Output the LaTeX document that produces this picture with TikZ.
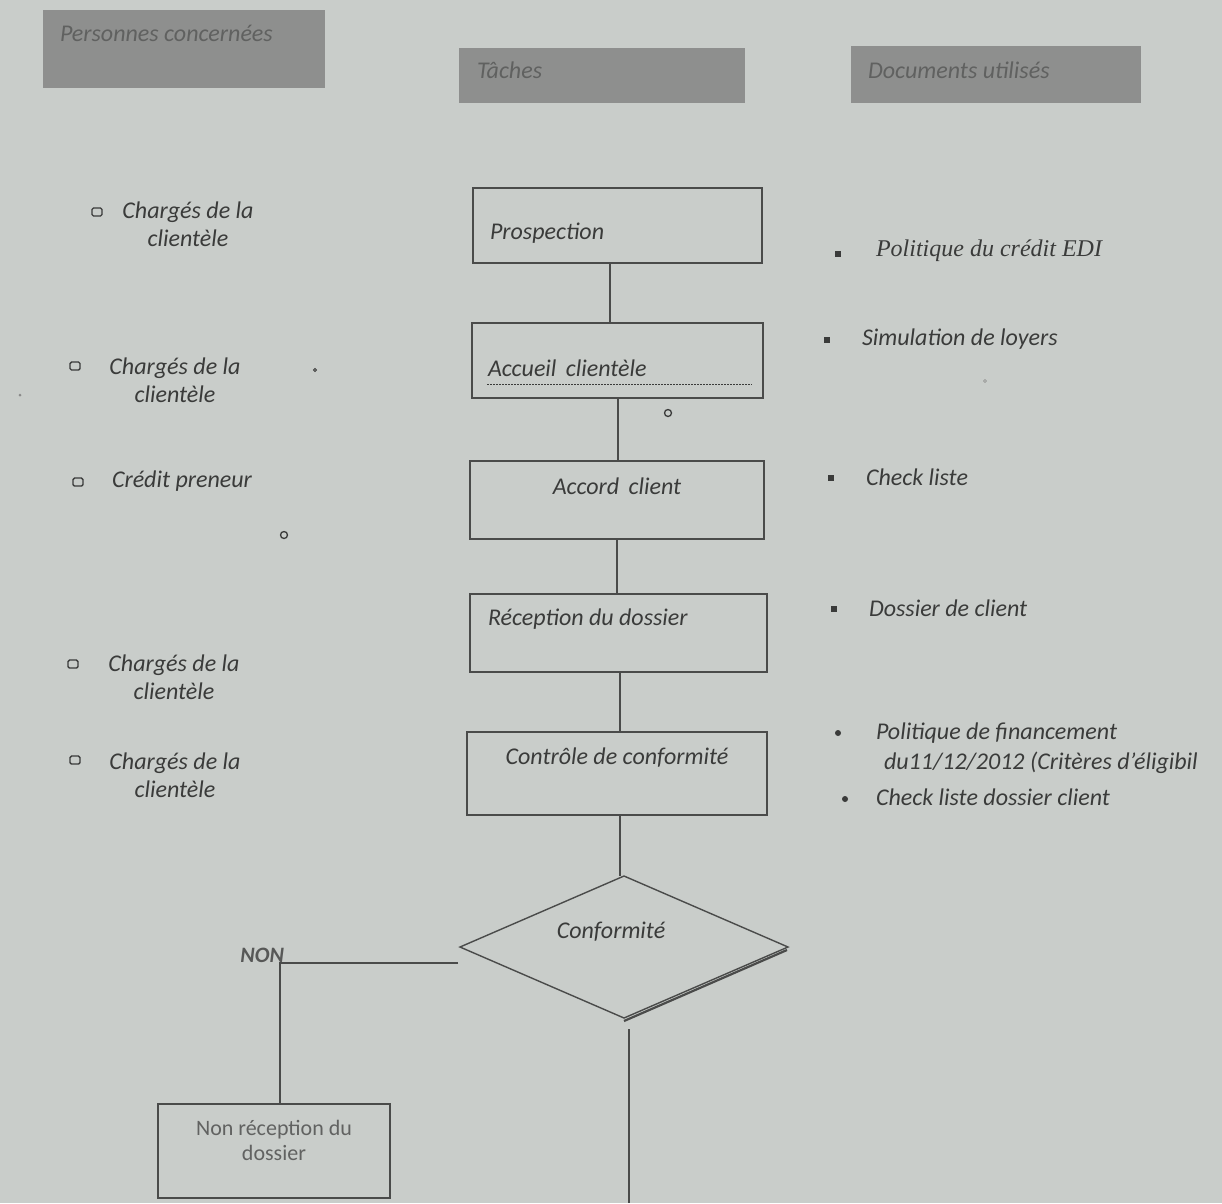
\documentclass[tikz,border=0pt]{standalone}
\usepackage{fontspec}
\setmainfont{Carlito}
\newfontfamily\serifit{Liberation Serif}
\usetikzlibrary{shapes.geometric,calc}
\definecolor{paper}{HTML}{C9CDCA}
\definecolor{band}{HTML}{8E8F8E}
\definecolor{bandtxt}{HTML}{606160}
\definecolor{ink}{HTML}{3A3B3A}
\definecolor{edge}{HTML}{4A4B4A}
\begin{document}
\begin{tikzpicture}[x=1pt,y=-1pt,
  every node/.style={inner sep=0pt,outer sep=0pt},
  txt/.style={font=\fontsize{24}{28}\selectfont\itshape,text=ink},
  hdtxt/.style={font=\fontsize{24}{28}\selectfont\itshape,text=bandtxt,anchor=west},
  band/.style={fill=band,draw=none},
  taskbox/.style={draw=edge,line width=1.4pt},
  link/.style={draw=edge,line width=1.4pt},
  sqbullet/.style={draw=ink,line width=1.4pt,rounded corners=1.5pt,minimum width=10pt,minimum height=8pt},
  fbullet/.style={fill=ink,minimum width=6pt,minimum height=6pt},
  dbullet/.style={fill=ink,circle,minimum size=6pt},
  speck/.style={draw=ink,line width=1.3pt,circle,minimum size=#1},
]
% paper
\fill[paper] (0,0) rectangle (1222,1203);
\useasboundingbox (0,0) rectangle (1222,1203);

% column headings
\node[band,minimum width=282pt,minimum height=78pt] (hpers) at (184,49) {};
\node[hdtxt] (hpersT) at (60,33) {Personnes concernées};
\node[band,minimum width=286pt,minimum height=55pt] (htask) at (602,75.5) {};
\node[hdtxt] (htaskT) at (477,70) {Tâches};
\node[band,minimum width=290pt,minimum height=57pt] (hdoc) at (996,74.5) {};
\node[hdtxt] (hdocT) at (868,70) {Documents utilisés};

% task boxes
\node[taskbox,minimum width=289pt,minimum height=75pt] (prosp) at (617.5,225.5) {};
\node[txt,anchor=west] (prospT) at (490,233) {Prospection};
\node[taskbox,minimum width=291pt,minimum height=75pt] (accueil) at (617.5,360.5) {};
\node[txt,anchor=west] (accueilT) at (488,368) {Accueil\, clientèle};
\draw[ink,line width=0.8pt,dash pattern=on 2pt off 1pt] (487,384) -- (752,384);
\node[taskbox,minimum width=294pt,minimum height=78pt] (accord) at (617,500) {};
\node[txt] (accordT) at (617,486) {Accord\, client};
\node[taskbox,minimum width=297pt,minimum height=78pt] (recep) at (618.5,633) {};
\node[txt,anchor=west] (recepT) at (488,619) {Réception du dossier};
\node[taskbox,minimum width=300pt,minimum height=83pt] (ctrl) at (617,773.5) {};
\node[txt] (ctrlT) at (617,758) {Contrôle de conformité};

% decision
\node[draw=edge,line width=1.4pt,diamond,minimum width=328pt,minimum height=142pt] (dia) at (624,947) {};
\node[txt] (diaT) at (611,932) {Conformité};
\draw[edge,line width=2.2pt] ([shift={(-1,3)}]dia.east) -- ([shift={(0,3)}]dia.south);

\node[taskbox,minimum width=232pt,minimum height=94pt] (nonrec) at (274,1151) {};
\node[font=\fontsize{22}{25}\selectfont,text=ink!80,align=center] (nonrecT) at (274,1140) {Non réception du\\dossier};

% connectors
\draw[link] ($(prosp.south)+(-7.5,0)$) -- ($(accueil.north)+(-7.5,0)$);
\draw[link] ($(accueil.south)+(0.5,0)$) -- ($(accord.north)+(1,0)$);
\draw[link] (accord.south) -- ($(recep.north)+(-1.5,0)$);
\draw[link] ($(recep.south)+(1.5,0)$) -- ($(ctrl.north)+(3,0)$);
\draw[link] ($(ctrl.south)+(3,0)$) -- ($(dia.north)+(-4,0)$);
\coordinate (down) at (629,1203);
\draw[link] ([shift={(5,11)}]dia.south) -- (down);
\coordinate (nonbend) at (280,963);
\draw[link] ([shift={(-2,16)}]dia.west) -- (nonbend) -- (nonbend |- nonrec.north);
\node[font=\fontsize{22}{26}\selectfont\bfseries\itshape,text=ink!85,anchor=base east] (nonT) at (284,962) {NON};

% people column
\node[sqbullet] (b1) at (97,212) {};
\node[txt,align=center] (p1) at (188,224) {Chargés de la\\clientèle};
\node[sqbullet] (b2) at (75,366) {};
\node[txt,align=center] (p2) at (175,380) {Chargés de la\\clientèle};
\node[sqbullet] (b3) at (78,482) {};
\node[txt,anchor=west] (p3) at (112,481) {Crédit preneur};
\node[sqbullet] (b4) at (73,664) {};
\node[txt,align=center] (p4) at (174,677) {Chargés de la\\clientèle};
\node[sqbullet] (b5) at (75,760) {};
\node[txt,align=center] (p5) at (175,775) {Chargés de la\\clientèle};

% documents column
\node[fbullet] (d1) at (838,254) {};
\node[txt,font=\fontsize{24}{28}\selectfont\serifit\itshape,anchor=west] (r1) at (876,251) {Politique du crédit EDI};
\node[fbullet] (d2) at (827,340) {};
\node[txt,anchor=west] (r2) at (862,339) {Simulation de loyers};
\node[fbullet] (d3) at (831,478) {};
\node[txt,anchor=west] (r3) at (866,477) {Check liste};
\node[fbullet] (d4) at (834,609) {};
\node[txt,anchor=west] (r4) at (869,608) {Dossier de client};
\node[dbullet] (d5) at (838,733) {};
\node[txt,anchor=west] (r5) at (876,733) {Politique de financement};
\node[txt,anchor=west] (r5b) at (884,763) {du11/12/2012 (Critères d’éligibil};
\node[dbullet] (d6) at (845,799) {};
\node[txt,anchor=west] (r6) at (876,797) {Check liste dossier client};

% small marks on the sheet
\node[speck=7pt] (m1) at (668,413) {};
\node[speck=7pt] (m2) at (284,535) {};
\node[speck=3pt,line width=0.9pt] (m3) at (315,370) {};
\node[speck=3pt,line width=0.6pt,draw=ink!60] (m4) at (985,381) {};
\node[fill=ink!60,circle,minimum size=3pt] (m5) at (20,395) {};
\end{tikzpicture}
\end{document}
